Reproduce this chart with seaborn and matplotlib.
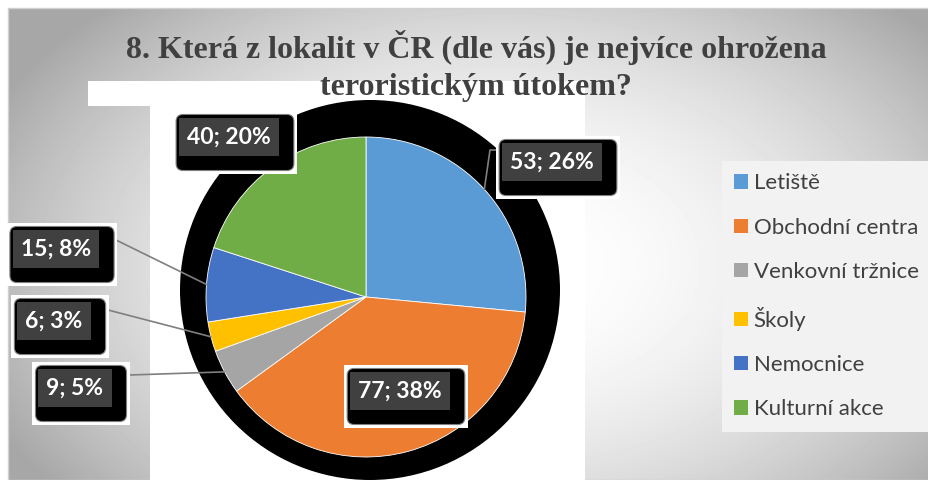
import numpy as np
import matplotlib
matplotlib.use("Agg")
import matplotlib.pyplot as plt
from matplotlib.patches import Rectangle, Circle, Patch, FancyBboxPatch
import seaborn as sns

# --- data ---
categories = ["Letiště", "Obchodní centra", "Venkovní tržnice", "Školy", "Nemocnice", "Kulturní akce"]
counts = [53, 77, 9, 6, 15, 40]
percent_labels = ["26%", "38%", "5%", "3%", "8%", "20%"]
colors = ["#5B9BD5", "#ED7D31", "#A5A5A5", "#FFC000", "#4472C4", "#70AD47"]
title_lines = ["8. Která z lokalit v ČR (dle vás) je nejvíce ohrožena",
               "teroristickým útokem?"]

# --- layout (pixels, y from top) ---
W, H = 929, 480
pie_center = (366, 297)
pie_radius = 160
label_pos = [(552, 162), (400, 391), (75, 388), (54, 321), (56, 249), (229, 137)]
leader_end = [(497, 150), None, (130, 375), (108, 310), (116, 240), None]

sns.set_theme(style="white")
plt.rcParams['font.family'] = ['Lato', 'DejaVu Sans']

fig = plt.figure(figsize=(W / 100, H / 100), dpi=100)
ax = fig.add_axes([0, 0, 1, 1])

# radial grey background
yy, xx = np.mgrid[8:H, 8:W]
d = np.sqrt(((xx - 500) / 470.0) ** 2 + ((yy - 265) / 300.0) ** 2)
bg = 1 - 0.24 * np.clip(d, 0, 1.2) ** 2
ax.imshow(bg, cmap='gray', vmin=0, vmax=1, extent=(8, W, H, 8), zorder=0, aspect='auto')
ax.add_patch(Rectangle((8, 8), W - 8, H - 8, fill=False, ec='#d0d0d0', lw=1, zorder=0.2))

# white area + dark shadow behind the pie
ax.add_patch(Rectangle((150, 100), 435, 380, fc='white', ec='none', zorder=0.5))
ax.add_patch(Rectangle((88, 81), 497, 25, fc='white', ec='none', zorder=0.5))
ax.add_patch(Circle((370, 290), 190, fc='black', ec='none', zorder=1))

pal = sns.color_palette(colors)
wedges, _ = ax.pie(counts, colors=pal, startangle=-90, counterclock=True,
                   center=pie_center, radius=pie_radius,
                   wedgeprops=dict(edgecolor='white', linewidth=0.6, zorder=2))
ax.set_xlim(0, W)
ax.set_ylim(H, 0)
ax.set_aspect('equal')
ax.axis('off')

fs = 16.5
label_texts = []
for i, w in enumerate(wedges):
    s = f"{counts[i]}; {percent_labels[i]}"
    x, y = label_pos[i]
    if leader_end[i] is not None:
        ang = np.deg2rad((w.theta1 + w.theta2) / 2)
        px = pie_center[0] + pie_radius * np.cos(ang)
        py = pie_center[1] + pie_radius * np.sin(ang)
        ex, ey = leader_end[i]
        if i == 0:
            ax.plot([px, ex - 7, ex], [py, ey, ey], color='#7f7f7f', lw=1.2, zorder=3)
        else:
            ax.plot([px, ex], [py, ey], color='#7f7f7f', lw=1.2, zorder=3)
    t = ax.text(x, y, s, color='white', fontsize=fs, fontweight='bold',
                ha='center', va='center',
                bbox=dict(boxstyle='square,pad=0.35', fc='#404040', ec='none'), zorder=6)
    label_texts.append(t)

# black rounded "callout" box + white frame behind each label
fig.canvas.draw()
renderer = fig.canvas.get_renderer()
inv = ax.transData.inverted()
for t in label_texts:
    bb = t.get_bbox_patch().get_window_extent(renderer)
    (x0, y1), (x1, y0) = inv.transform([[bb.x0, bb.y0], [bb.x1, bb.y1]])
    bx0, by0, bx1, by1 = x0 - 3, y0 - 4, x1 + 15, y1 + 15
    ax.add_patch(Rectangle((bx0 - 3, by0 - 3), bx1 - bx0 + 6, by1 - by0 + 6,
                           fc='white', ec='none', zorder=4))
    ax.add_patch(FancyBboxPatch((bx0, by0), bx1 - bx0, by1 - by0,
                                boxstyle='round,pad=0,rounding_size=7',
                                fc='black', ec='#808080', lw=0.8, zorder=5))

# title
for j, line in enumerate(title_lines):
    ax.text(476, 47 + 40 * j, line, ha='center', va='center', fontsize=23,
            fontweight='bold', family=['Liberation Serif', 'DejaVu Serif'],
            color='#404040', zorder=7)

# legend
handles = [Patch(facecolor=c, edgecolor='none') for c in colors]
leg = ax.legend(handles, categories, loc='upper left',
                bbox_to_anchor=(722 / W, 1 - 161 / H), borderaxespad=0,
                fontsize=16, frameon=True, fancybox=False, framealpha=1,
                facecolor='#f2f2f2', edgecolor='none',
                handlelength=0.62, handleheight=0.62, handletextpad=0.25,
                labelspacing=1.1, borderpad=0.55)
for t in leg.get_texts():
    t.set_color('#404040')
leg.set_zorder(8)

fig.savefig('out.png', dpi=100)
